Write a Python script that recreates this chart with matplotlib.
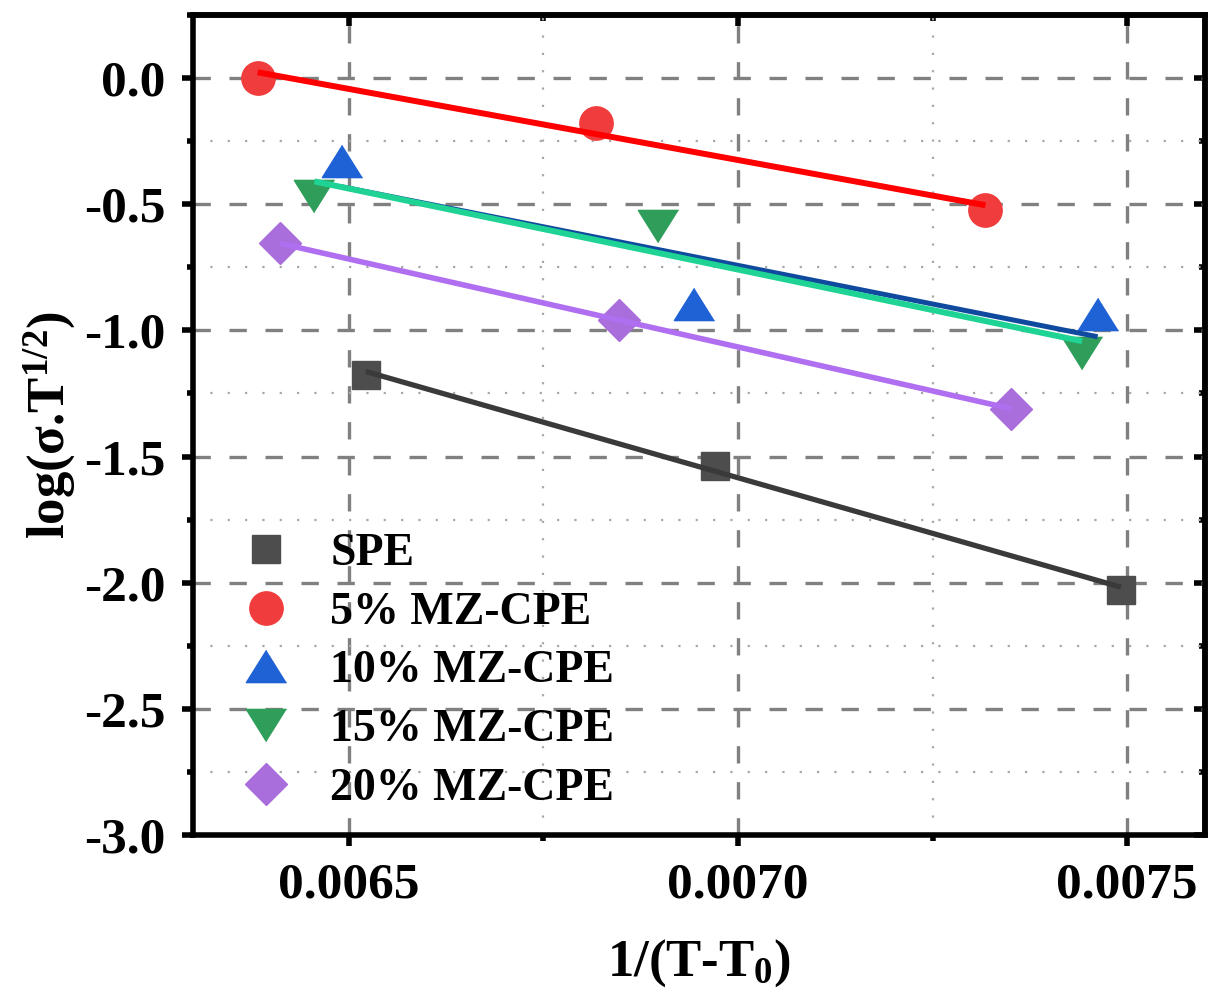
import numpy as np
import matplotlib
matplotlib.use("Agg")
import matplotlib.pyplot as plt
from matplotlib.ticker import MultipleLocator, FormatStrFormatter

plt.rcParams['font.family'] = ['Liberation Serif', 'DejaVu Serif']
plt.rcParams['font.weight'] = 'bold'
plt.rcParams['mathtext.fontset'] = 'custom'
plt.rcParams['mathtext.rm'] = 'Liberation Serif:bold'
plt.rcParams['mathtext.bf'] = 'Liberation Serif:bold'
plt.rcParams['mathtext.it'] = 'Liberation Serif:bold'

# ---- data ----
labels = ["SPE", "5% MZ-CPE", "10% MZ-CPE", "15% MZ-CPE", "20% MZ-CPE"]
x_spe = [0.006522, 0.006971, 0.007492]
y_spe = [-1.175, -1.536, -2.028]
x_5 = [0.006383, 0.006818, 0.007318]
y_5 = [0.0, -0.179, -0.524]
x_10 = [0.006491, 0.006944, 0.007462]
y_10 = [-0.33, -0.897, -0.937]
x_15 = [0.006456, 0.006897, 0.007442]
y_15 = [-0.468, -0.587, -1.09]
x_20 = [0.006412, 0.006847, 0.007351]
y_20 = [-0.655, -0.960, -1.31]

xs = [x_spe, x_5, x_10, x_15, x_20]
ys = [y_spe, y_5, y_10, y_15, y_20]

tri_up = [(0, 0.8), (-1, -0.8), (1, -0.8)]
tri_dn = [(0, -0.8), (-1, 0.8), (1, 0.8)]
markers = ['s', 'o', tri_up, tri_dn, 'D']
msizes = [20, 24, 29, 29, 21]
mcolors = ['#4d4d4d', '#f03c3c', '#1f62d6', '#2e9e5a', '#a96edc']
lcolors = ['#3a3a3a', '#ff0000', '#0f4a9e', '#1fd395', '#b06ff0']
lwidths = [3.8, 4.3, 3.6, 4.3, 4.0]

fig = plt.figure(figsize=(12.09, 10.02), dpi=100)
ax = fig.add_axes([193/1209, 1-835/1002, (1205-193)/1209, (835-15)/1002])

handles = []
for i in range(5):
    h, = ax.plot(xs[i], ys[i], linestyle='none', marker=markers[i], ms=msizes[i],
                 color=mcolors[i], mec=mcolors[i], zorder=3, label=labels[i])
    handles.append(h)
for i in range(5):
    p = np.polyfit(xs[i], ys[i], 1)
    xl = np.array([min(xs[i]), max(xs[i])])
    ax.plot(xl, np.polyval(p, xl), color=lcolors[i], lw=lwidths[i], zorder=4,
            solid_capstyle='butt')

ax.set_xlim(0.0063, 0.0076)
ax.set_ylim(-3.0, 0.25)
ax.xaxis.set_major_locator(MultipleLocator(0.0005))
ax.xaxis.set_minor_locator(MultipleLocator(0.00025))
ax.yaxis.set_major_locator(MultipleLocator(0.5))
ax.yaxis.set_minor_locator(MultipleLocator(0.25))
ax.xaxis.set_major_formatter(FormatStrFormatter('%.4f'))
ax.yaxis.set_major_formatter(FormatStrFormatter('%.1f'))

ax.grid(True, which='major', color='#808080', lw=2.4, linestyle=(0, (5.2, 5.6)), zorder=1)
ax.grid(True, which='minor', color='#a8a8a8', lw=1.6, linestyle=(0, (1, 6.8)), zorder=1)
ax.set_axisbelow(True)

for s in ax.spines.values():
    s.set_linewidth(4)
ax.tick_params(axis='both', which='major', labelsize=37, width=4, length=8, pad=12)
ax.tick_params(axis='both', which='minor', width=4, length=4)
ax.tick_params(axis='x', which='both', direction='out', top=False)
ax.tick_params(axis='y', which='both', direction='out', right=False)
# mirrored inward ticks on top/right
axt = ax.secondary_xaxis('top')
axt.xaxis.set_major_locator(MultipleLocator(0.0005))
axt.xaxis.set_minor_locator(MultipleLocator(0.00025))
axt.tick_params(which='major', direction='in', length=8, width=4, labeltop=False)
axt.tick_params(which='minor', direction='in', length=4, width=4)
axt.spines['top'].set_linewidth(4)
axr = ax.secondary_yaxis('right')
axr.yaxis.set_major_locator(MultipleLocator(0.5))
axr.yaxis.set_minor_locator(MultipleLocator(0.25))
axr.tick_params(which='major', direction='in', length=8, width=4, labelright=False)
axr.tick_params(which='minor', direction='in', length=4, width=4)
axr.spines['right'].set_linewidth(4)

for t in ax.get_xticklabels() + ax.get_yticklabels():
    t.set_fontweight('bold')

ax.set_xlabel(r'1/(T-T$_{\mathbf{0}}$)', fontsize=38, fontweight='bold')
ax.set_ylabel(r'log(σ.T$^{\mathbf{1/2}}$)', fontsize=38, fontweight='bold')
ax.xaxis.set_label_coords(0.5, -0.125)
ax.yaxis.set_label_coords(-0.114, 0.5)

leg = ax.legend(handles=handles, loc='lower left', bbox_to_anchor=(0.045, 0.031),
                frameon=False, fontsize=33, handlelength=1.2, handletextpad=0.8,
                labelspacing=0.36, borderaxespad=0, borderpad=0)
for t in leg.get_texts():
    t.set_fontweight('bold')

fig.savefig('out.png', dpi=100)
